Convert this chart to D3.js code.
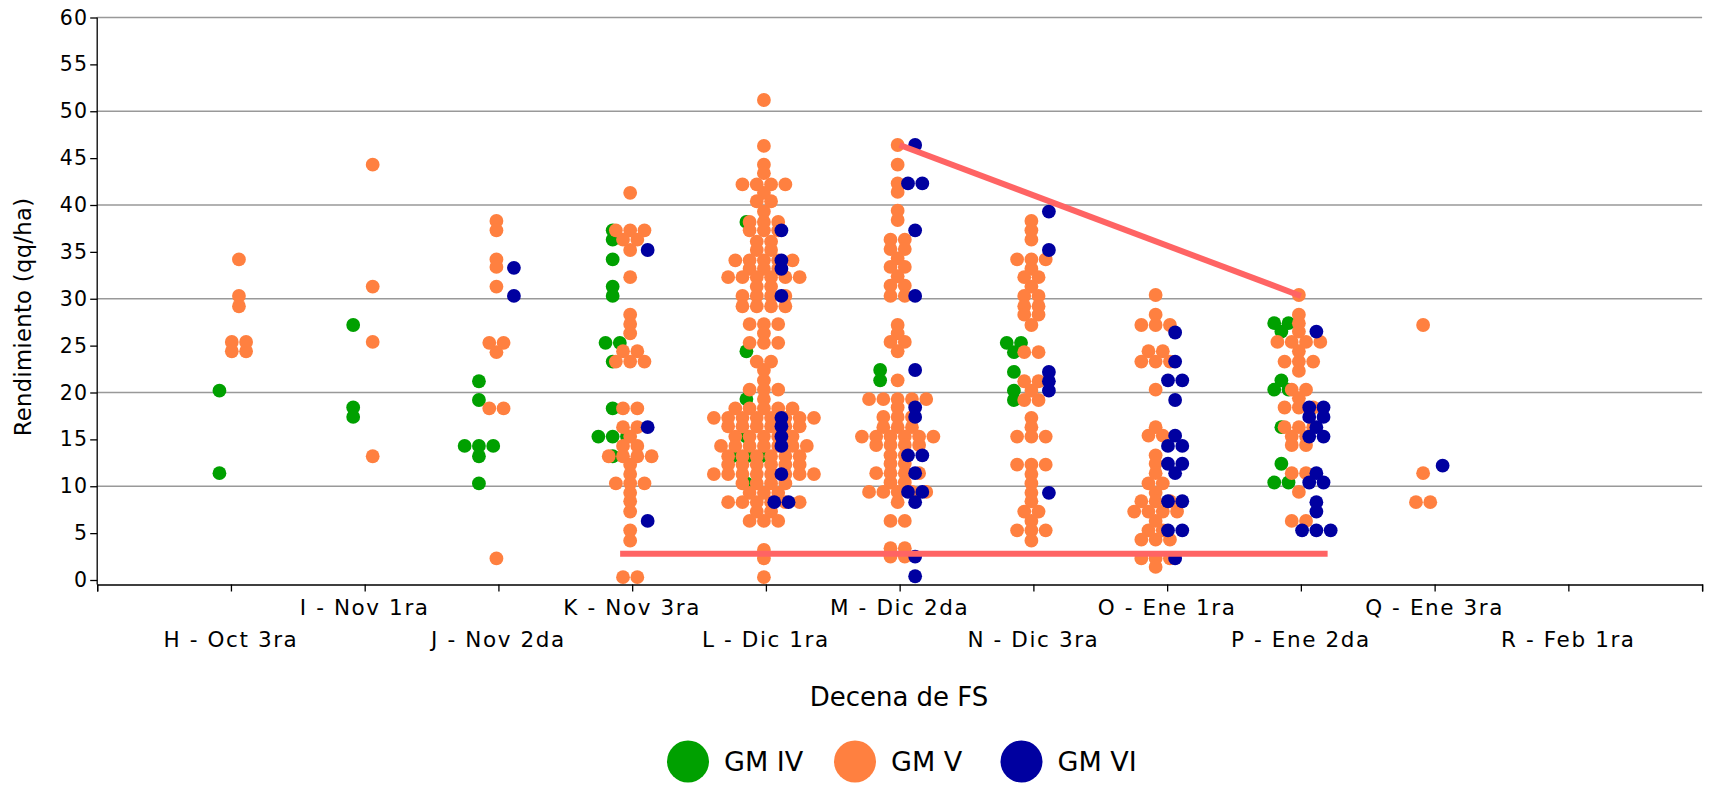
<!DOCTYPE html>
<html><head><meta charset="utf-8">
<script src="https://cdn.jsdelivr.net/npm/d3@7"></script>
<style>
body{margin:0;background:#fff;}
svg text{font-family:"DejaVu Sans",Verdana,sans-serif;fill:#000;}
</style></head><body>
<svg id="chart" width="1713" height="785"></svg>
<script>
// ---------- data ----------
const catKeys = ["H","I","J","K","L","M","N","O","P","Q","R"];
const categories = ["H - Oct 3ra","I - Nov 1ra","J - Nov 2da","K - Nov 3ra","L - Dic 1ra","M - Dic 2da","N - Dic 3ra","O - Ene 1ra","P - Ene 2da","Q - Ene 3ra","R - Feb 1ra"];
const yTicks = [0,5,10,15,20,25,30,35,40,45,50,55,60];
const gridValues = [10,20,30,40,50,60];
const seriesNames = ["GM IV","GM V","GM VI"];
const seriesColors = ["#00a000","#ff8040","#0000a0"];

// [category, rendimiento, number of points with that value]
const gmIV = [
 ["H",20.2,1],["H",11.4,1],
 ["I",27.2,1],["I",18.4,1],["I",17.4,1],
 ["J",21.2,1],["J",19.2,1],["J",14.3,3],["J",13.2,1],["J",10.3,1],
 ["K",37.3,1],["K",36.3,1],["K",34.2,1],["K",31.3,1],["K",30.3,1],["K",25.3,2],["K",23.3,1],["K",18.3,1],["K",15.3,3],["K",13.2,1],
 ["L",38.2,1],["L",24.4,1],["L",19.3,1],["L",15.3,1],["L",13.2,3],["L",10.3,1],
 ["M",22.4,1],["M",21.3,1],
 ["N",25.3,2],["N",24.3,1],["N",22.2,1],["N",20.2,1],["N",19.2,1],
 ["P",27.4,2],["P",26.5,1],["P",21.3,1],["P",20.3,2],["P",16.3,1],["P",12.4,1],["P",10.4,2]
];
const gmV = [
 ["H",34.2,1],["H",30.3,1],["H",29.2,1],["H",25.4,2],["H",24.4,2],
 ["I",44.3,1],["I",31.3,1],["I",25.4,1],["I",13.2,1],
 ["J",38.3,1],["J",37.3,1],["J",34.2,1],["J",33.4,1],["J",31.3,1],["J",25.3,2],["J",24.3,1],["J",18.3,2],["J",2.3,1],
 ["K",41.3,1],["K",37.3,3],["K",36.3,2],["K",35.2,1],["K",32.3,1],["K",28.3,1],["K",27.3,1],["K",26.3,1],["K",24.4,2],["K",23.3,3],
 ["K",18.3,2],["K",16.3,2],["K",15.3,1],["K",14.3,2],["K",13.2,4],["K",12.3,1],["K",11.3,1],["K",10.3,3],["K",9.3,1],["K",8.4,1],["K",7.3,1],["K",5.3,1],["K",4.2,1],["K",0.3,2],
 ["L",51.2,1],["L",46.3,1],["L",44.3,1],["L",43.4,1],["L",42.2,4],["L",41.3,1],["L",40.4,2],["L",39.3,1],["L",38.2,3],["L",37.3,3],["L",36.1,2],["L",35.2,2],
 ["L",34.1,5],["L",33.2,3],["L",32.3,6],["L",31.3,2],["L",30.3,4],["L",29.2,4],["L",27.3,3],["L",26.3,1],["L",25.3,3],["L",23.3,2],["L",22.4,1],["L",21.3,1],
 ["L",20.3,3],["L",19.3,1],["L",18.3,5],["L",17.3,8],["L",16.4,6],["L",15.3,5],["L",14.3,7],["L",13.2,6],["L",12.3,6],["L",11.3,8],["L",10.3,4],["L",9.3,3],
 ["L",8.3,6],["L",7.3,2],["L",6.3,3],["L",3.2,1],["L",2.3,1],["L",0.3,1],
 ["M",46.4,1],["M",44.3,1],["M",42.3,1],["M",41.4,1],["M",39.4,1],["M",38.4,1],["M",36.3,2],["M",35.3,2],["M",34.3,1],["M",33.4,2],["M",32.4,1],["M",31.4,2],
 ["M",30.3,2],["M",27.2,1],["M",26.3,1],["M",25.4,2],["M",24.4,1],["M",21.3,1],["M",19.3,5],["M",18.4,1],["M",17.4,3],["M",16.3,3],["M",15.3,6],["M",14.4,4],
 ["M",13.3,2],["M",12.4,2],["M",11.4,4],["M",10.4,2],["M",9.4,5],["M",8.3,1],["M",6.3,2],["M",3.4,2],["M",2.5,2],
 ["N",38.3,1],["N",37.3,1],["N",36.3,1],["N",34.2,3],["N",33.2,1],["N",32.3,2],["N",31.3,1],["N",30.3,2],["N",29.2,2],["N",28.3,2],["N",27.2,1],["N",24.3,2],
 ["N",21.2,2],["N",20.2,1],["N",19.2,2],["N",17.3,1],["N",16.3,1],["N",15.3,3],["N",12.3,3],["N",11.3,1],["N",10.3,1],["N",9.3,1],["N",8.4,1],["N",7.3,2],
 ["N",6.3,1],["N",5.3,3],["N",4.2,1],
 ["O",30.4,1],["O",28.3,1],["O",27.2,3],["O",24.4,2],["O",23.3,3],["O",20.3,1],["O",16.3,1],["O",15.4,2],["O",13.3,1],["O",12.4,1],["O",11.4,1],["O",10.3,2],
 ["O",9.3,1],["O",8.4,3],["O",7.3,4],["O",6.3,1],["O",5.3,2],["O",4.3,3],["O",2.3,3],["O",1.4,1],
 ["P",30.4,1],["P",28.3,1],["P",27.4,1],["P",26.5,1],["P",25.4,4],["P",24.4,1],["P",23.3,3],["P",22.3,1],["P",20.3,2],["P",19.4,1],["P",18.4,3],["P",16.3,3],
 ["P",15.3,2],["P",14.4,2],["P",11.4,2],["P",9.4,1],["P",6.3,2],
 ["Q",27.2,1],["Q",11.4,1],["Q",8.3,2]
];
const gmVI = [
 ["J",33.3,1],["J",30.3,1],
 ["K",35.2,1],["K",16.3,1],["K",6.3,1],
 ["L",37.3,1],["L",34.1,1],["L",33.2,1],["L",30.3,1],["L",17.3,1],["L",16.4,1],["L",15.3,1],["L",14.3,1],["L",11.3,1],["L",8.3,2],
 ["M",46.4,1],["M",42.3,2],["M",37.3,1],["M",30.3,1],["M",22.4,1],["M",18.4,1],["M",17.4,1],["M",13.3,2],["M",11.4,1],["M",9.4,2],["M",8.3,1],["M",2.5,1],["M",0.4,1],
 ["N",39.3,1],["N",35.2,1],["N",22.2,1],["N",21.2,1],["N",20.2,1],["N",9.3,1],
 ["O",26.4,1],["O",23.3,1],["O",21.3,2],["O",19.2,1],["O",15.4,1],["O",14.3,2],["O",12.4,2],["O",11.4,1],["O",8.4,2],["O",5.3,2],["O",2.3,1],
 ["P",26.5,1],["P",18.4,2],["P",17.4,2],["P",16.3,1],["P",15.3,2],["P",11.4,1],["P",10.4,2],["P",8.3,1],["P",7.3,1],["P",5.3,3],
 ["Q",12.2,1]
];
// trend lines drawn on the chart: [x position on category axis, value]
const trendTop = [[6,46.4],[9,30.3]];
const trendBase = [[3.91,2.8],[9.2,2.8]];

// ---------- chart ----------
const svg = d3.select("#chart");
const x = d3.scaleLinear().domain([0, 12]).range([97.2, 1702.1]);
const y = d3.scaleLinear().domain([0, 60]).range([580, 17.5]);
const axisY = 584.5;

// grid
svg.append("g").selectAll("line").data(gridValues).join("line")
  .attr("x1", x(0)).attr("x2", x(12))
  .attr("y1", d => y(d)).attr("y2", d => y(d))
  .attr("stroke", "#999").attr("stroke-width", 1.5);

// y axis
const gy = svg.append("g").attr("transform", `translate(${x(0)},0)`)
  .call(d3.axisLeft(y).tickValues(yTicks).tickSize(7).tickPadding(2));
gy.select(".domain").remove();
gy.selectAll(".tick line").attr("stroke", "#000").attr("stroke-width", 1.3);
gy.selectAll(".tick text").attr("font-size", 20.5).attr("letter-spacing", 1.2)
  .attr("font-family", "DejaVu Sans").attr("fill", "#000");
svg.append("line").attr("x1", x(0)).attr("x2", x(0)).attr("y1", y(60)).attr("y2", axisY)
  .attr("stroke", "#000").attr("stroke-width", 1.3);

// x axis
const gx = svg.append("g").attr("transform", `translate(0,${axisY})`)
  .call(d3.axisBottom(x).tickValues(d3.range(0, 13)).tickSize(7).tickFormat(""));
gx.select(".domain").attr("stroke", "#000").attr("stroke-width", 1.3);
gx.selectAll(".tick line").attr("stroke", "#000").attr("stroke-width", 1.3);
svg.append("g").selectAll("text").data(categories).join("text")
  .attr("x", (d, i) => x(i + 1))
  .attr("y", (d, i) => i % 2 === 0 ? 647 : 615)
  .attr("text-anchor", "middle").attr("font-size", 21.5).attr("letter-spacing", 1.6)
  .text(d => d);

// axis titles
svg.append("text").attr("transform", `translate(31,317) rotate(-90)`)
  .attr("text-anchor", "middle").attr("font-size", 22.7).attr("letter-spacing", 0.3).text("Rendimiento (qq/ha)");
svg.append("text").attr("x", 899).attr("y", 706)
  .attr("text-anchor", "middle").attr("font-size", 26).text("Decena de FS");

// dots
const seriesData = [gmIV, gmV, gmVI];
const present = {};
seriesData.forEach((arr, si) => arr.forEach(([c]) => { (present[c] = present[c] || new Set()).add(si); }));
const offsetsFor = n => n === 3 ? [-19.5, -2, 15.5] : n === 2 ? [-11.5, 8] : [-2];
const seriesOffset = (c, si) => { const l = [...present[c]].sort(); return offsetsFor(l.length)[l.indexOf(si)]; };
const step = 14.3, r = 6.9;
seriesData.forEach((arr, si) => {
  const pts = [];
  arr.forEach(([c, v, n]) => {
    const cx0 = x(catKeys.indexOf(c) + 1) + seriesOffset(c, si);
    for (let j = 0; j < n; j++) pts.push({cx: cx0 + (j - (n - 1) / 2) * step, cy: y(v)});
  });
  svg.append("g").selectAll("circle").data(pts).join("circle")
    .attr("cx", d => d.cx).attr("cy", d => d.cy).attr("r", r)
    .attr("fill", seriesColors[si]);
});

// trend lines
const line = d3.line().x(d => x(d[0])).y(d => y(d[1]));
[trendTop, trendBase].forEach(t => svg.append("path").attr("d", line(t))
  .attr("stroke", "#ff6464").attr("stroke-width", 6).attr("fill", "none").attr("stroke-linecap", "butt"));

// legend
const lx = [688, 855, 1021.5];
const lg = svg.append("g").selectAll("g").data(seriesNames).join("g")
  .attr("transform", (d, i) => `translate(${lx[i]},761.5)`);
lg.append("circle").attr("r", 21).attr("fill", (d, i) => seriesColors[i]);
lg.append("text").attr("x", 36).attr("dy", "0.36em").attr("font-size", 27).text(d => d);
</script>
</body></html>
